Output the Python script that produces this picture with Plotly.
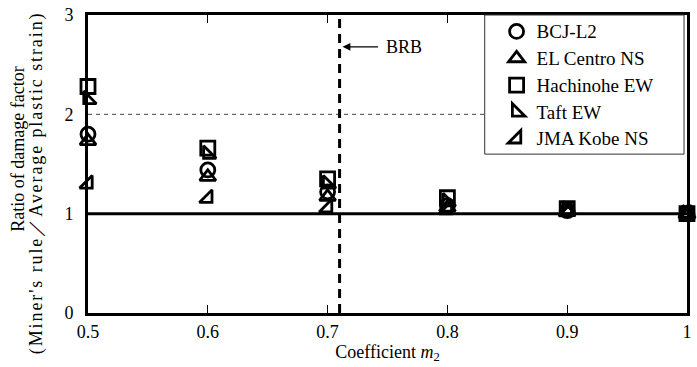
import plotly.graph_objects as go

m2 = [0.5, 0.6, 0.7, 0.8, 0.9, 1.0]
series_names = ["BCJ-L2", "EL Centro NS", "Hachinohe EW", "Taft EW", "JMA Kobe NS"]
bcj = [1.80, 1.44, 1.22, 1.08, 1.03, 1.0]
elcentro = [1.73, 1.37, 1.17, 1.06, 1.02, 1.0]
hachinohe = [2.28, 1.66, 1.35, 1.16, 1.05, 1.0]
taft = [2.15, 1.60, 1.30, 1.12, 1.04, 1.0]
jma = [1.30, 1.155, 1.06, 1.04, 1.02, 1.0]
brb_x = 0.71
x_ticks = [0.5, 0.6, 0.7, 0.8, 0.9, 1.0]
x_tick_text = ["0.5", "0.6", "0.7", "0.8", "0.9", "1"]
y_ticks = [0, 1, 2, 3]
y_title_lines = ["Ratio of damage factor", "(Miner's rule\uff0fAverage plastic strain)"]

symbols = ["circle-open", "triangle-up-open", "square-open", "triangle-sw-open", "triangle-se-open"]
values = [bcj, elcentro, hachinohe, taft, jma]

FONT = "Liberation Serif, Times New Roman, serif"

# plot area in pixels
L, R, T, B = 88, 5, 11, 54
W, H = 697, 367
PW, PH = W - L - R, H - T - B

def px_x(p):
    return (p - L) / PW

def px_y(p):
    return (H - B - p) / PH

fig = go.Figure()
for i, (name, vals, sym) in enumerate(zip(series_names, values, symbols)):
    fig.add_trace(go.Scatter(
        x=m2, y=vals, mode="markers",
        name="<span style='font-size:19px'>" + name + "</span>",
        legendgroup="g%d" % i,
        marker=dict(symbol=sym, size=14, color="black", line=dict(width=2.8, color="black")),
        cliponaxis=False,
    ))

# reference lines
fig.add_shape(type="line", xref="x", yref="y", x0=0.5, x1=1.0, y0=2, y1=2,
              line=dict(color="#444", width=1, dash="4px,4px"), layer="below")
fig.add_shape(type="line", xref="x", yref="y", x0=0.5, x1=1.0, y0=1, y1=1,
              line=dict(color="black", width=3), layer="below")
fig.add_shape(type="line", xref="x", yref="y", x0=brb_x, x1=brb_x, y0=0, y1=3,
              line=dict(color="black", width=3, dash="9px,6px"), layer="below")

# legend box
fig.add_shape(type="rect", xref="paper", yref="paper",
              x0=px_x(488), x1=px_x(689), y0=px_y(152), y1=px_y(11),
              fillcolor="white", line=dict(color="#333", width=1), layer="above")

fig.add_annotation(x=brb_x, y=2.68, xref="x", yref="y", ax=40, ay=0,
                   text="", showarrow=True, arrowhead=2, arrowsize=1.2, arrowwidth=1.3,
                   arrowcolor="black", standoff=3)
fig.add_annotation(x=brb_x + 0.037, y=2.68, xref="x", yref="y", text="BRB", showarrow=False,
                   xanchor="left", font=dict(size=18, color="black", family=FONT))

fig.add_annotation(x=px_x(18), y=px_y(147), xref="paper", yref="paper", text=y_title_lines[0],
                   textangle=-90, showarrow=False, xanchor="center", yanchor="middle",
                   font=dict(size=18, color="black", family=FONT))
fig.add_annotation(x=px_x(36), y=px_y(181), xref="paper", yref="paper",
                   text="<span style='letter-spacing:1.9px'>" + y_title_lines[1] + "</span>",
                   textangle=-90, showarrow=False, xanchor="center", yanchor="middle",
                   font=dict(size=18, color="black", family=FONT))

fig.update_layout(
    width=W, height=H,
    margin=dict(l=L, r=R, t=T, b=B),
    paper_bgcolor="white", plot_bgcolor="white",
    font=dict(family=FONT, size=18, color="black"),
    showlegend=True,
    legend=dict(x=px_x(500), y=px_y(10), xanchor="left", yanchor="top",
                bgcolor="rgba(0,0,0,0)", borderwidth=0,
                font=dict(size=16.8, family=FONT), itemwidth=30, tracegroupgap=2),
    xaxis=dict(range=[0.5, 1.0], tickvals=x_ticks, ticktext=x_tick_text,
               showgrid=False, zeroline=False, showline=True, linecolor="black", linewidth=3,
               mirror="ticks", ticks="inside", ticklen=8, tickwidth=1, tickcolor="black",
               title=dict(text="Coefficient <i>m</i><sub>2</sub>", standoff=0, font=dict(size=18))),
    yaxis=dict(range=[0, 3], tickvals=y_ticks, showgrid=False, zeroline=False,
               showline=True, linecolor="black", linewidth=3, mirror=True, ticks="",
               ticklabelstandoff=8),
)

fig.write_html("out.html")
